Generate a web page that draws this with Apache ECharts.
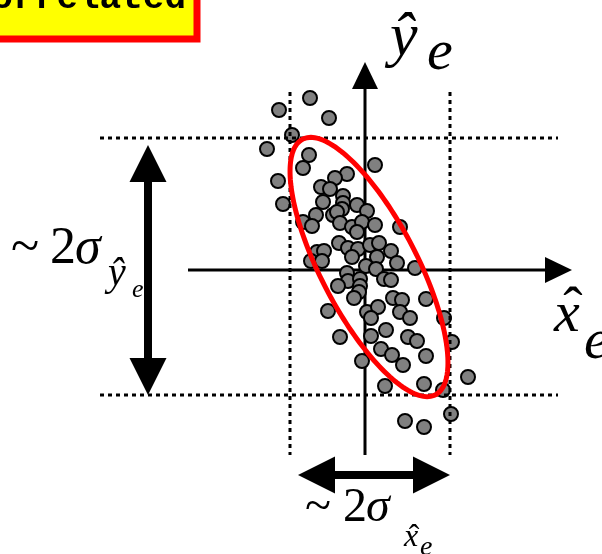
<!DOCTYPE html>
<html>
<head>
<meta charset="utf-8">
<script src="https://cdn.jsdelivr.net/npm/echarts@6/dist/echarts.min.js"></script>
<style>
  html, body { margin: 0; padding: 0; background: #ffffff; }
  #chart { width: 602px; height: 554px; }
</style>
</head>
<body>
<div id="chart"></div>
<script>
// Estimation errors of the sample (x̂_e, ŷ_e), in plot units
const xHat = [
  -5.5, -8.6, -3.6, -7.3, -9.8, -5.6, -6.2, 1.0, -8.7, -1.8,
  -3.0, -8.2, -4.4, -3.5, -2.2, -4.2, -2.2, -2.3, -0.8, 0.2,
  -4.9, -3.2, -2.8, -6.2, -5.3, -2.5, -1.3, -0.3, 1.0, -0.8,
  3.5, -2.6, -1.7, -0.7, 0.5, 1.4, -1.3, 1.2, 2.6, 3.2,
  5.0, -4.8, -4.1, -5.4, -4.3, 0.1, 1.1, -1.8, -1.7, -0.5,
  1.9, 2.6, -2.7, -0.5, -0.6, -1.1, 2.8, 3.7, 6.1, -3.7,
  0.2, 1.3, 0.6, 3.5, 4.5, 7.9, -2.5, 0.6, 2.1, 4.3,
  5.2, 8.7, 1.6, 2.7, 3.8, 6.1, -0.3, 10.3, 5.9, 2.0,
  7.8, 8.6, 4.0, 5.9
];
const yHat = [
  17.2, 16.0, 15.2, 13.5, 12.1, 11.5, 10.2, 10.5, 8.9, 9.6,
  9.2, 6.6, 8.3, 8.1, 7.4, 6.8, 6.7, 6.1, 6.5, 5.9,
  5.5, 5.5, 5.8, 4.8, 4.4, 4.7, 4.3, 4.8, 4.5, 3.8,
  4.3, 2.7, 2.2, 2.1, 2.5, 2.7, 1.3, 1.3, 1.9, 0.7,
  0.2, 1.8, 1.9, 0.9, 0.9, 0.4, 0.1, -0.3, -1.1, -0.9,
  -0.9, -1.0, -1.6, -1.6, -2.2, -2.8, -2.8, -3.0, -2.9, -4.1,
  -4.2, -3.7, -4.8, -4.2, -4.8, -4.8, -6.7, -6.6, -6.0, -6.7,
  -7.1, -7.2, -7.9, -8.5, -9.5, -8.6, -9.1, -10.7, -11.4, -11.6,
  -12.0, -14.4, -15.1, -15.7
];

// Dotted spread guides: [x1, y1, x2, y2]
const sigmaGuides = [
  [-26.5, 13.2, 19.3, 13.2],
  [-26.5, -12.5, 19.3, -12.5],
  [-7.5, 17.8, -7.5, -18.5],
  [8.5, 17.8, 8.5, -18.5]
];
// Coordinate axes, from tail to arrow tip
const axisLines = [
  [-17.7, 0, 20.7, 0],
  [0, -18.5, 0, 20.8]
];
// Double-headed arrows showing the projected spreads
const spreadArrows = [
  [-21.7, 12.5, -21.7, -12.5],
  [-6.7, -20.5, 8.5, -20.5]
];
// Error ellipse: centre x, centre y, semi-major, semi-minor, tilt (degrees)
const errorEllipse = [[0.4, 0.3, 14.4, 4.8, -62.5]];

const SERIF = '"Liberation Serif", "Times New Roman", serif';

function guideItem(params, api) {
  const p1 = api.coord([api.value(0), api.value(1)]);
  const p2 = api.coord([api.value(2), api.value(3)]);
  return {
    type: 'line',
    shape: { x1: p1[0], y1: p1[1], x2: p2[0], y2: p2[1] },
    style: { stroke: '#000', lineWidth: 3, lineDash: [4, 4] }
  };
}

function arrowRenderer(headLen, headWidth, shaft, both) {
  return function (params, api) {
    const a = api.coord([api.value(0), api.value(1)]);
    const b = api.coord([api.value(2), api.value(3)]);
    const dx = b[0] - a[0], dy = b[1] - a[1];
    const len = Math.hypot(dx, dy);
    const ux = dx / len, uy = dy / len, nx = -uy, ny = ux;
    const head = (tip, dir) => {
      const bx = tip[0] - dir * ux * headLen, by = tip[1] - dir * uy * headLen;
      return {
        type: 'polygon',
        shape: { points: [tip,
          [bx + nx * headWidth / 2, by + ny * headWidth / 2],
          [bx - nx * headWidth / 2, by - ny * headWidth / 2]] },
        style: { fill: '#000' }
      };
    };
    const start = both ? [a[0] + ux * headLen * 0.9, a[1] + uy * headLen * 0.9] : a;
    const end = [b[0] - ux * headLen * 0.9, b[1] - uy * headLen * 0.9];
    const children = [{
      type: 'line',
      shape: { x1: start[0], y1: start[1], x2: end[0], y2: end[1] },
      style: { stroke: '#000', lineWidth: shaft }
    }, head(b, 1)];
    if (both) children.push(head(a, -1));
    return { type: 'group', children };
  };
}

function ellipseItem(params, api) {
  const cx = api.value(0), cy = api.value(1);
  const ra = api.value(2), rb = api.value(3);
  const t = api.value(4) * Math.PI / 180;
  const pts = [];
  for (let i = 0; i < 180; i++) {
    const s = i / 180 * 2 * Math.PI;
    const ex = ra * Math.cos(s), ey = rb * Math.sin(s);
    pts.push(api.coord([cx + ex * Math.cos(t) - ey * Math.sin(t),
                        cy + ex * Math.sin(t) + ey * Math.cos(t)]));
  }
  return {
    type: 'polygon',
    shape: { points: pts },
    style: { fill: 'none', stroke: '#ff0000', lineWidth: 5 }
  };
}

// Text piece placed by its baseline
function txt(str, x, baseline, size, opts) {
  opts = opts || {};
  const italic = opts.italic ? 'italic ' : '';
  const weight = opts.bold ? 'bold ' : '';
  const family = opts.family || SERIF;
  const align = opts.align || 'left';
  return {
    type: 'text',
    x: x,
    y: baseline - (opts.mid || 0.34) * size,
    z: 10,
    style: {
      text: str,
      font: italic + weight + size + 'px ' + family,
      fill: '#000',
      align: align, textAlign: align,
      verticalAlign: 'middle', textVerticalAlign: 'middle'
    }
  };
}

const chart = echarts.init(document.getElementById('chart'), null, { renderer: 'canvas' });

chart.setOption({
  animation: false,
  backgroundColor: '#ffffff',
  grid: { left: 0, right: 0, top: 0, bottom: 0, containLabel: false },
  xAxis: { type: 'value', min: -36.5, max: 23.7, show: false },
  yAxis: { type: 'value', min: -28.4, max: 27.0, show: false },
  series: [
    { type: 'custom', name: 'axes', data: axisLines, z: 2,
      renderItem: arrowRenderer(27, 26, 3, false) },
    { type: 'scatter', name: 'errors', data: xHat.map((x, i) => [x, yHat[i]]), z: 3,
      symbol: 'circle', symbolSize: 14,
      itemStyle: { color: '#808080', borderColor: '#000', borderWidth: 2, opacity: 1 } },
    { type: 'custom', name: 'guides', data: sigmaGuides, z: 4, renderItem: guideItem },
    { type: 'custom', name: 'ellipse', data: errorEllipse, z: 5, renderItem: ellipseItem },
    { type: 'custom', name: 'spread', data: spreadArrows, z: 5,
      renderItem: arrowRenderer(37, 37, 8, true) }
  ],
  graphic: [
    { type: 'rect', z: 9, shape: { x: -20, y: -20, width: 217, height: 59 },
      style: { fill: '#ffff00', stroke: '#ff0000', lineWidth: 7 } },
    txt('Correlated', 186, 9, 36, { bold: true, family: '"Liberation Mono", "Courier New", monospace', align: 'right', mid: 0.27 }),

    // left spread label
    txt('~', 11, 267, 52),
    txt('2', 50, 267, 52),
    txt('σ', 75, 267, 52, { italic: true }),
    txt('ŷ', 108, 288, 40, { italic: true }),
    txt('e', 132, 299, 26, { italic: true }),

    // bottom spread label
    txt('~', 305, 525, 48),
    txt('2', 343, 525, 48),
    txt('σ', 366, 525, 48, { italic: true }),
    txt('x', 404, 548, 32, { italic: true }),
    txt('ˆ', 414, 548, 32, { align: 'center' }),
    txt('e', 420, 557, 28, { italic: true }),

    // axis names
    txt('ŷ', 390, 60, 62, { italic: true }),
    txt('e', 427, 73, 58, { italic: true }),
    txt('x', 554, 335, 58, { italic: true }),
    txt('ˆ', 573, 330, 58, { align: 'center' }),
    txt('e', 584, 362, 58, { italic: true })
  ]
});
</script>
</body>
</html>
